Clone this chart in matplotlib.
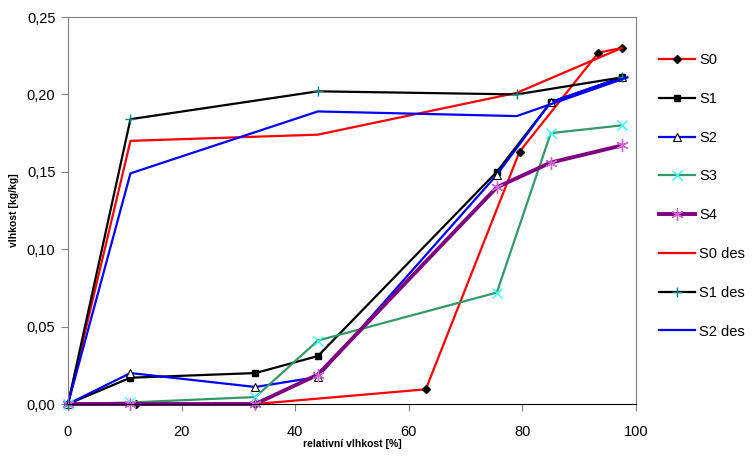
import matplotlib
matplotlib.use("Agg")
import matplotlib.pyplot as plt
from matplotlib.ticker import FuncFormatter

plt.rcParams['font.family'] = ['Liberation Sans', 'DejaVu Sans']

# adsorpce
x_s0 = [0, 12, 33, 63, 79.5, 93.4, 97.5]
s0 = [0, 0, 0, 0.0095, 0.163, 0.227, 0.230]

x_s = [0, 11, 33, 44, 75.5, 85, 97.5]
s1 = [0, 0.017, 0.020, 0.031, 0.150, 0.195, 0.211]
s2 = [0, 0.020, 0.011, 0.0175, 0.148, 0.195, 0.211]
s3 = [0, 0.001, 0.0045, 0.041, 0.072, 0.175, 0.180]
s4 = [0, 0, 0, 0.019, 0.140, 0.156, 0.167]

# desorpce
x_des = [0, 11, 44, 79, 97.5]
x_s2des = [0, 11, 44, 79, 98.5]
s0_des = [0, 0.170, 0.174, 0.201, 0.230]
s1_des = [0, 0.184, 0.202, 0.200, 0.211]
s2_des = [0, 0.149, 0.189, 0.186, 0.211]

fig = plt.figure(figsize=(7.52, 4.66), dpi=100)
ax = fig.add_axes([0.0904, 0.133, 0.7553, 0.8305])

ax.plot(x_s0, s0, color='#FF0000', lw=1.6, marker='D', ms=4.5,
        mfc='black', mec='black', label='S0')
ax.plot(x_s, s1, color='black', lw=1.6, marker='s', ms=5,
        mfc='black', mec='black', label='S1')
ax.plot(x_s, s2, color='#0000FF', lw=1.6, marker='^', ms=6,
        mfc='white', mec='black', mew=0.8, label='S2')
ax.plot(x_s, s3, color='#339966', lw=1.6, marker='x', ms=7,
        mec='#33FFFF', mew=1, label='S3')
ax.plot(x_s, s4, color='#800080', lw=2.8, marker=(6, 2, 0), ms=9,
        mec='#CC66CC', mew=1, label='S4')
ax.plot(x_des, s0_des, color='#FF0000', lw=1.6, label='S0 des')
ax.plot(x_des, s1_des, color='black', lw=1.6, marker='+', ms=7,
        mec='#008080', mew=1, label='S1 des')
ax.plot(x_s2des, s2_des, color='#0000FF', lw=1.6, label='S2 des')

ax.set_xlim(0, 100)
ax.set_ylim(0, 0.25)
ax.set_xticks([0, 20, 40, 60, 80, 100])
ax.set_yticks([0, 0.05, 0.10, 0.15, 0.20, 0.25])
ax.yaxis.set_major_formatter(FuncFormatter(lambda v, p: f"{v:.2f}".replace('.', ',')))
ax.tick_params(axis='both', labelsize=10.5, direction='out', length=5,
               color='#808080')
ax.tick_params(axis='x', pad=10)
ax.tick_params(axis='y', pad=4)

for side in ['left', 'top', 'right']:
    ax.spines[side].set_color('#808080')
ax.spines['bottom'].set_color('black')

ax.set_xlabel('relativní vlhkost [%]', fontsize=7.5, fontweight='bold', labelpad=0)
ax.set_ylabel('vlhkost [kg/kg]', fontsize=7.5, fontweight='bold', labelpad=5.5)

for line in ax.lines:
    line.set_clip_on(False)

ax.legend(loc='upper left', bbox_to_anchor=(1.03, 0.922), frameon=False,
          fontsize=10.5, handlelength=2.5, handletextpad=0.25,
          labelspacing=1.7, borderaxespad=0)

fig.savefig('out.png', dpi=100)
